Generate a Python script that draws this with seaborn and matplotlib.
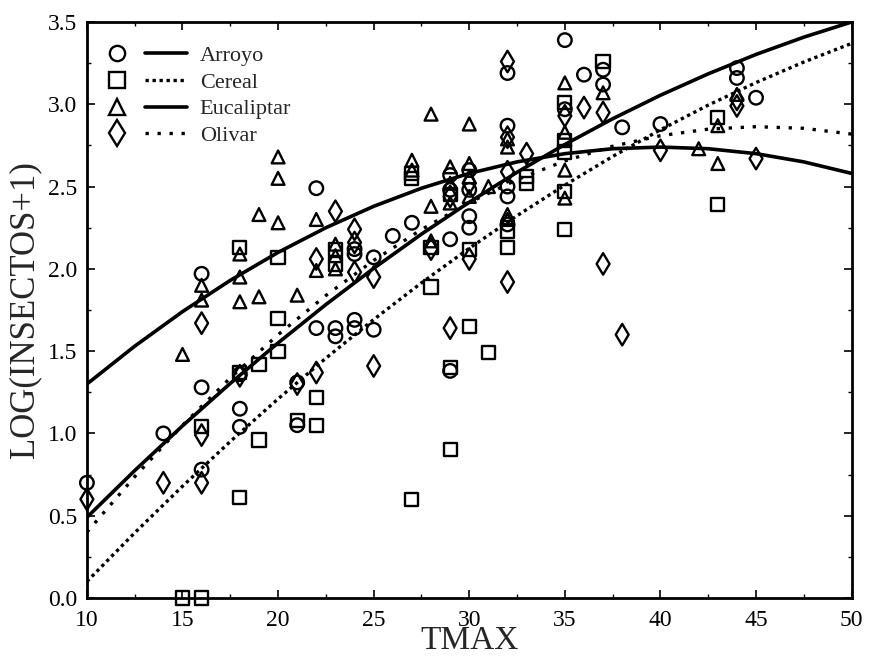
import matplotlib
matplotlib.use("Agg")
import matplotlib.pyplot as plt
import seaborn as sns
import pandas as pd
from matplotlib.lines import Line2D
from matplotlib.legend_handler import HandlerTuple

# ---------------- data ----------------
arroyo_x = [10, 14, 16, 16, 16, 18, 18, 18, 21, 21, 22, 22, 23, 23, 24, 24, 24, 24, 25, 25,
            26, 27, 29, 29, 29, 29, 30, 30, 30, 30, 32, 32, 32, 32, 32, 35, 35, 36, 37, 37,
            38, 40, 44, 44, 45]
arroyo_y = [0.70, 1.00, 1.97, 1.28, 0.78, 1.36, 1.15, 1.04, 1.31, 1.05, 2.49, 1.64, 1.64, 1.59,
            2.12, 2.09, 1.69, 1.64, 2.07, 1.63, 2.20, 2.28, 2.57, 2.48, 2.18, 1.38, 2.60, 2.48,
            2.32, 2.25, 3.19, 2.87, 2.50, 2.44, 2.27, 3.39, 2.97, 3.18, 3.21, 3.12, 2.86, 2.88,
            3.22, 3.16, 3.04]

cereal_x = [15, 16, 16, 18, 18, 18, 19, 19, 20, 20, 20, 21, 22, 22, 23, 23, 27, 27, 27, 28,
            28, 29, 29, 29, 30, 30, 31, 32, 32, 33, 33, 35, 35, 35, 35, 35, 37, 43, 43]
cereal_y = [0.00, 0.00, 1.04, 2.13, 1.37, 0.61, 1.42, 0.96, 2.07, 1.70, 1.50, 1.08, 1.22, 1.05,
            2.12, 2.03, 2.58, 2.55, 0.60, 2.13, 1.89, 2.45, 1.40, 0.90, 2.12, 1.65, 1.49, 2.23,
            2.13, 2.56, 2.52, 3.01, 2.78, 2.71, 2.47, 2.24, 3.26, 2.92, 2.39]

eucal_x = [15, 16, 16, 18, 18, 18, 19, 19, 20, 20, 20, 21, 22, 22, 23, 23, 23, 27, 27, 28,
           28, 28, 29, 29, 29, 30, 30, 30, 30, 31, 32, 32, 32, 32, 35, 35, 35, 35, 37, 42,
           43, 43, 44]
eucal_y = [1.48, 1.90, 1.81, 2.09, 1.95, 1.80, 2.33, 1.83, 2.68, 2.55, 2.28, 1.84, 2.30, 1.99,
           2.15, 2.08, 2.00, 2.66, 2.60, 2.94, 2.38, 2.17, 2.62, 2.52, 2.40, 2.88, 2.64, 2.56,
           2.44, 2.50, 2.79, 2.74, 2.33, 2.30, 3.13, 2.83, 2.60, 2.43, 3.07, 2.73, 2.87, 2.64,
           3.06]

olivar_x = [10, 14, 16, 16, 16, 18, 21, 22, 22, 23, 24, 24, 24, 25, 25, 28, 29, 29, 30, 30,
            32, 32, 32, 32, 33, 35, 36, 37, 37, 38, 40, 44, 44, 45]
olivar_y = [0.60, 0.70, 1.67, 0.99, 0.70, 1.35, 1.30, 2.06, 1.37, 2.35, 2.24, 2.16, 1.98, 1.95,
            1.41, 2.12, 2.44, 1.64, 2.52, 2.06, 3.26, 2.80, 2.59, 1.92, 2.70, 2.93, 2.98, 2.95,
            2.03, 1.60, 2.72, 3.03, 2.99, 2.67]

# fitted curves, values every 2.5 units of TMAX
curve_x = [10, 12.5, 15, 17.5, 20, 22.5, 25, 27.5, 30, 32.5, 35, 37.5, 40, 42.5, 45, 47.5, 50]
arroyo_fit = [0.49, 0.774, 1.046, 1.304, 1.550, 1.783, 2.003, 2.211, 2.405, 2.587, 2.756,
              2.912, 3.055, 3.185, 3.303, 3.408, 3.500]
cereal_fit = [0.10, 0.396, 0.679, 0.951, 1.210, 1.457, 1.692, 1.915, 2.125, 2.323, 2.509,
              2.683, 2.845, 2.995, 3.132, 3.257, 3.370]
eucal_fit = [1.30, 1.530, 1.740, 1.930, 2.100, 2.250, 2.380, 2.490, 2.580, 2.650, 2.700,
             2.730, 2.740, 2.730, 2.700, 2.650, 2.580]
olivar_fit = [0.40, 0.737, 1.049, 1.337, 1.600, 1.838, 2.051, 2.239, 2.403, 2.542, 2.656,
              2.745, 2.809, 2.849, 2.864, 2.854, 2.819]

groups = ["Arroyo", "Cereal", "Eucaliptar", "Olivar"]
xticks = [10, 15, 20, 25, 30, 35, 40, 45, 50]
yticks = [0.0, 0.5, 1.0, 1.5, 2.0, 2.5, 3.0, 3.5]

# ---------------- styling ----------------
sns.set_theme(style="white")
plt.rcParams['font.family'] = ['Liberation Serif', 'DejaVu Serif']

fig = plt.figure(figsize=(8.69, 6.59), dpi=100)
ax = fig.add_axes([0.100, 0.0926, 0.880, 0.874])

markers = {"Arroyo": "o", "Cereal": "s", "Eucaliptar": "^", "Olivar": "d"}
sizes = {"Arroyo": 95, "Cereal": 90, "Eucaliptar": 85, "Olivar": 120}
lstyles = {"Arroyo": "-", "Cereal": (0, (1, 1.1)), "Eucaliptar": "-", "Olivar": (0, (1, 2.6))}
lwidths = {"Arroyo": 2.6, "Cereal": 2.4, "Eucaliptar": 2.6, "Olivar": 2.4}

pts = {"Arroyo": (arroyo_x, arroyo_y), "Cereal": (cereal_x, cereal_y),
       "Eucaliptar": (eucal_x, eucal_y), "Olivar": (olivar_x, olivar_y)}
fits = {"Arroyo": arroyo_fit, "Cereal": cereal_fit, "Eucaliptar": eucal_fit, "Olivar": olivar_fit}

for g in groups:
    df_fit = pd.DataFrame({"TMAX": curve_x, "y": fits[g]})
    sns.lineplot(data=df_fit, x="TMAX", y="y", color="black", linewidth=lwidths[g],
                 linestyle=lstyles[g], ax=ax, zorder=2)

for g in groups:
    xs, ys = pts[g]
    df = pd.DataFrame({"TMAX": xs, "y": ys})
    sns.scatterplot(data=df, x="TMAX", y="y", marker=markers[g], s=sizes[g],
                    facecolor="none", edgecolor="black", linewidth=1.7,
                    ax=ax, zorder=3, clip_on=False)

ax.set_xlim(10, 50)
ax.set_ylim(0, 3.5)
ax.set_xticks(xticks)
ax.set_xticklabels([str(v) for v in xticks])
ax.set_yticks(yticks)
ax.set_yticklabels([f"{v:.1f}" for v in yticks])
ax.set_xticks([12.5 + 5 * i for i in range(8)], minor=True)
ax.set_yticks([0.25 + 0.5 * i for i in range(7)], minor=True)
ax.tick_params(which="both", direction="in", top=True, right=True, bottom=True, left=True,
               colors="black", labelsize=17)
ax.tick_params(which="major", length=6, width=1.2, pad=7)
ax.tick_params(axis="x", which="major", pad=9)
ax.tick_params(which="minor", length=3, width=1.0)
for s in ax.spines.values():
    s.set_color("black")
    s.set_linewidth(2)

ax.set_xlabel("TMAX", fontsize=24, labelpad=-4)
ax.set_ylabel("LOG(INSECTOS+1)", fontsize=25, labelpad=5)

# legend: marker, then line sample, then label
handles = []
for g in groups:
    mk = Line2D([], [], marker=markers[g], linestyle="none", markersize=11 if g != "Olivar" else 13,
                markerfacecolor="none", markeredgecolor="black", markeredgewidth=1.7)
    ln = Line2D([], [], color="black", linewidth=lwidths[g], linestyle=lstyles[g])
    handles.append((mk, ln))
ax.legend(handles, groups, handler_map={tuple: HandlerTuple(ndivide=None, pad=0.31)},
          loc="upper left", frameon=False, fontsize=16, handlelength=4.1,
          handletextpad=0.58, labelspacing=0.28, borderaxespad=0.0, borderpad=0.4,
          bbox_to_anchor=(0.0, 0.975))

fig.savefig("out.png", dpi=100)
